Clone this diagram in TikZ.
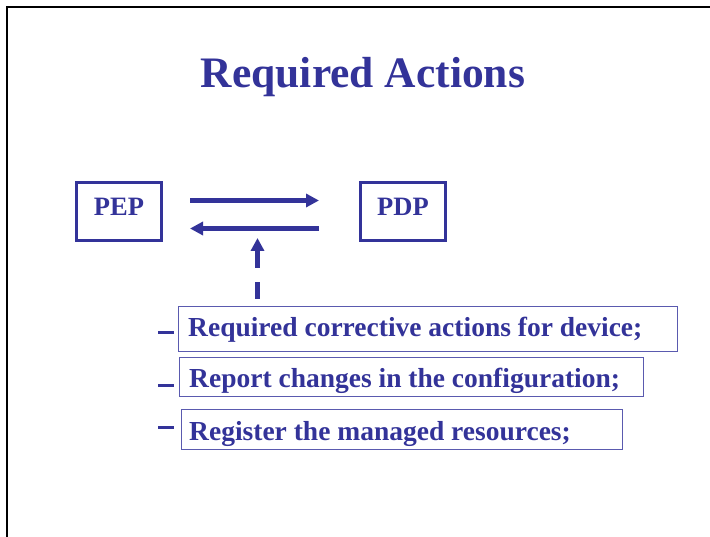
\documentclass[tikz,border=0pt]{standalone}
\usepackage{fontspec}
\setmainfont{Liberation Serif}
\usetikzlibrary{arrows.meta}
\definecolor{slideblue}{RGB}{51,51,153}
\definecolor{itemline}{RGB}{90,90,175}
\tikzset{
  agentbox/.style={draw=slideblue,line width=2.5pt,minimum width=85pt,minimum height=58pt,inner sep=0pt,text depth=9.5pt,text=slideblue,font=\fontsize{26.5}{30}\selectfont\bfseries},
  itembox/.style={draw=itemline,line width=1pt,inner sep=0pt,anchor=north west,text=slideblue},
  itemtext/.style={anchor=base west,inner sep=0pt,text=slideblue,font=\fontsize{27.5}{32}\selectfont\bfseries},
  flow/.style={draw=slideblue,line width=4.5pt,-{Triangle[length=13pt,width=13pt]}},
  bullet/.style={draw=slideblue,line width=3pt}
}
\begin{document}
\begin{tikzpicture}[x=1pt,y=-1pt]
\useasboundingbox (0,0) rectangle (710,537);
\fill[white] (0,0) rectangle (710,537);
\draw[black,line width=1.5pt] (7,537) -- (7,7) -- (710,7);
\node[anchor=base,inner sep=0pt,text=slideblue,font=\fontsize{43.5}{48}\selectfont\bfseries] (title) at (363,88) {Required Actions};
\node[agentbox] (pep) at (119,211.5) {PEP};
\node[agentbox] (pdp) at (403,211.5) {PDP};
\coordinate (r1) at (190,200.5);
\coordinate (r2) at (319,200.5);
\coordinate (l1) at (319,228.5);
\coordinate (l2) at (190,228.5);
\draw[flow] (r1) -- (r2);
\draw[flow] (l1) -- (l2);
\coordinate (dstart) at (257.5,299);
\coordinate (dend) at (257.5,238);
\draw[flow,dash pattern=on 17pt off 14pt on 60pt] (dstart) -- (dend);
% item boxes
\draw[itembox] (178,307) rectangle (677,352);
\draw[itembox] (179.5,358) rectangle (643,397);
\draw[itembox] (181,410) rectangle (622,449);
\node[itemtext] (i1) at (188,337) {Required corrective actions for device;};
\node[itemtext] (i2) at (189,388) {Report changes in the configuration;};
\node[itemtext] (i3) at (189,440) {Register the managed resources;};
\coordinate (b1a) at (158,333); \coordinate (b1b) at (174,333);
\coordinate (b2a) at (158,386); \coordinate (b2b) at (174,386);
\coordinate (b3a) at (158,428); \coordinate (b3b) at (174,428);
\draw[bullet] (b1a) -- (b1b);
\draw[bullet] (b2a) -- (b2b);
\draw[bullet] (b3a) -- (b3b);
\end{tikzpicture}
\end{document}
